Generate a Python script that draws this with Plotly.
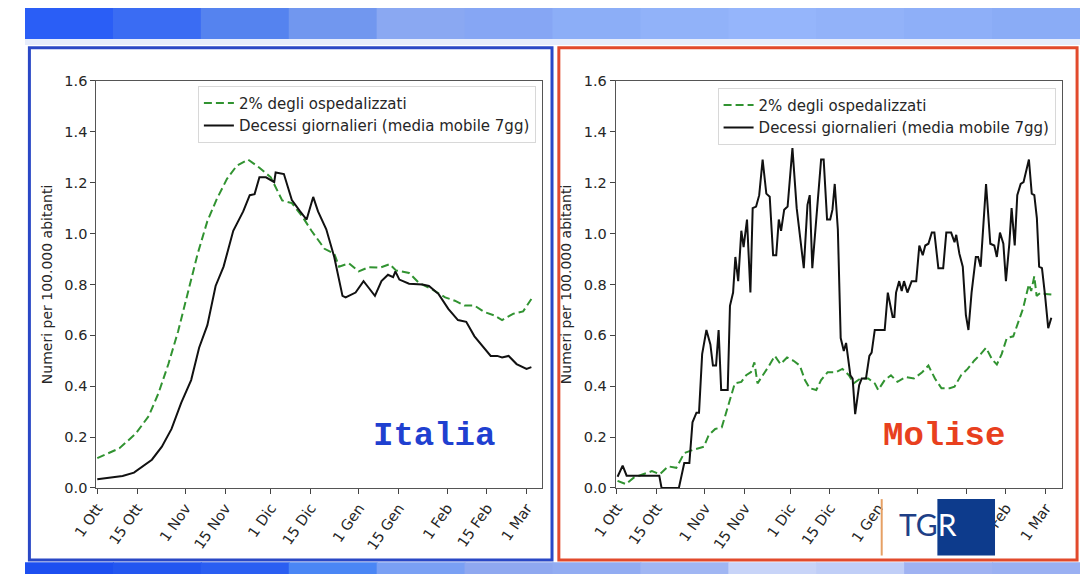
import plotly.graph_objects as go

W, H = 1080, 582

# ---------------- DATA ----------------
# day offsets from 1 Oct 2020
tick_days = [0, 14, 31, 45, 61, 75, 92, 106, 123, 137, 151]
tick_labels = ["1 Ott", "15 Ott", "1 Nov", "15 Nov", "1 Dic", "15 Dic",
               "1 Gen", "15 Gen", "1 Feb", "15 Feb", "1 Mar"]
y_ticks = [0.0, 0.2, 0.4, 0.6, 0.8, 1.0, 1.2, 1.4, 1.6]

legend_osp = "2% degli ospedalizzati"
legend_dec = "Decessi giornalieri (media mobile 7gg)"
y_title = "Numeri per 100.000 abitanti"
regions = ["Italia", "Molise"]

# Italia - 2% degli ospedalizzati
it_osp_giorni = [0, 7.8, 13.5, 18.1, 21.5, 25, 28.4, 31.8, 35.3, 38.7, 42.1, 45.6, 49, 53,
                 57, 61, 65, 68.4, 71.9, 75.3, 79.9, 83.3, 85, 88.5, 91.9, 95.4, 99.4, 102.8,
                 105, 109.6, 113.1, 117.7, 122.3, 125.7, 129.1, 132.6, 136, 139.4, 142.3,
                 146.3, 149.7, 152.6]
it_osp_valori = [0.117, 0.156, 0.213, 0.283, 0.372, 0.487, 0.615, 0.768, 0.921, 1.049,
                 1.138, 1.215, 1.266, 1.291, 1.259, 1.221, 1.130, 1.120, 1.070, 1.011,
                 0.940, 0.921, 0.870, 0.883, 0.851, 0.868, 0.866, 0.880, 0.855, 0.845,
                 0.806, 0.781, 0.749, 0.736, 0.717, 0.717, 0.692, 0.679, 0.660, 0.685,
                 0.694, 0.743]

# Italia - decessi giornalieri
it_dec_giorni = [0, 8.9, 12.9, 15.8, 19.2, 22.7, 26.1, 29.5, 33, 35.8, 38.7, 41.6, 44.4,
                 47.8, 51.3, 53.6, 55.3, 57, 59.3, 62.2, 62.7, 65.6, 68.4, 71.3, 73.6,
                 75.9, 77.6, 80.5, 83.3, 86.2, 87.3, 90.8, 93.6, 95.4, 97.6, 99.9, 102.2,
                 104, 104.8, 106.2, 109.6, 114.3, 116.6, 120, 123.4, 126.8, 129.7, 132.6,
                 135.4, 138.3, 140.6, 142.3, 144.6, 147.4, 150.9, 152.6]
it_dec_valori = [0.034, 0.047, 0.060, 0.085, 0.111, 0.162, 0.232, 0.334, 0.424, 0.551,
                 0.640, 0.794, 0.870, 1.011, 1.087, 1.151, 1.155, 1.221, 1.221, 1.202,
                 1.240, 1.234, 1.132, 1.087, 1.055, 1.144, 1.087, 1.017, 0.908, 0.755,
                 0.749, 0.768, 0.813, 0.787, 0.755, 0.813, 0.838, 0.829, 0.851, 0.819,
                 0.803, 0.800, 0.794, 0.762, 0.704, 0.660, 0.653, 0.596, 0.558, 0.519,
                 0.519, 0.513, 0.519, 0.487, 0.468, 0.475]

# Molise - 2% degli ospedalizzati
mo_osp_giorni = [0.2, 3.1, 6, 9.4, 12.3, 15.1, 18, 20.9, 23.7, 26.6, 30.6, 32.3, 34.6, 36.9,
                 39.2, 41.5, 43.8, 45.5, 47.2, 48.4, 49.5, 51.8, 53.6, 55.6, 57.6, 59.9,
                 62.2, 64.4, 66.2, 67.9, 70.2, 71.9, 74.2, 77.1, 79.4, 81.7, 83.4, 85.7,
                 88.5, 90.8, 92, 94.3, 96.5, 98.8, 101.7, 104.6, 107.5, 109.7, 112, 114.3,
                 117.2, 118.9, 121.2, 123.5, 125.8, 128.1, 130, 132.1, 133.8, 135.5, 137.3,
                 139.6, 141.3, 143, 144.1, 145.1, 145.9, 147, 147.8, 149.3, 151, 153]
mo_osp_valori = [0.028, 0.015, 0.041, 0.054, 0.066, 0.054, 0.085, 0.079, 0.137, 0.149,
                 0.162, 0.207, 0.232, 0.238, 0.328, 0.411, 0.417, 0.443, 0.455, 0.494,
                 0.411, 0.449, 0.481, 0.519, 0.487, 0.513, 0.500, 0.481, 0.424, 0.392,
                 0.385, 0.424, 0.455, 0.455, 0.468, 0.443, 0.411, 0.430, 0.430, 0.411,
                 0.385, 0.424, 0.443, 0.417, 0.436, 0.430, 0.455, 0.481, 0.430, 0.392,
                 0.392, 0.398, 0.443, 0.468, 0.500, 0.526, 0.551, 0.506, 0.485, 0.526,
                 0.589, 0.596, 0.653, 0.704, 0.755, 0.800, 0.774, 0.832, 0.755, 0.768,
                 0.762, 0.760]

# Molise - decessi giornalieri
mo_dec_giorni = [0.2, 2.0, 3.4, 14.9, 15.7, 21.8, 23.7, 25.5, 26.6, 28, 28.9, 30, 31.5,
                 32.9, 33.8, 34.9, 35.8, 36.7, 39, 39.8, 40.9, 41.7, 42.7, 43.8, 44.6,
                 45.8, 47, 47.8, 49, 50.1, 51.3, 52.6, 53.8, 55, 56.1, 57, 57.8, 58.9,
                 60.1, 61.8, 63.3, 64.4, 65.8, 67.1, 67.9, 68.8, 70.2, 71.9, 72.8, 74,
                 75.1, 75.9, 76.7, 77.8, 78.8, 79.9, 80.7, 81.4, 82.2, 83, 83.9, 85.3,
                 86.2, 87.7, 88.9, 89.7, 90.8, 94.3, 95.4, 97.1, 97.7, 98.3, 99.4, 100.3,
                 101.1, 102.3, 103.8, 105.4, 106.5, 107.7, 108.6, 109.7, 110.9, 111.8,
                 113.2, 114.9, 116, 117.7, 118.9, 119.5, 120.6, 121.8, 122.9, 123.8,
                 124.9, 126.4, 127.2, 128.1, 130, 131.5, 132.9, 133.8, 134.9, 136.1, 137,
                 138.2, 139, 140.1, 141, 142.2, 143.2, 145.1, 146.1, 147, 147.9, 148.7,
                 149.7, 150.8, 151.9, 153]
mo_dec_valori = [0.044, 0.088, 0.048, 0.048, 0.0, 0.0, 0.098, 0.098, 0.258, 0.296, 0.296,
                 0.526, 0.621, 0.564, 0.481, 0.481, 0.621, 0.385, 0.385, 0.716, 0.768,
                 0.908, 0.813, 1.011, 0.947, 1.055, 0.768, 1.100, 1.106, 1.151, 1.291,
                 1.157, 1.145, 0.915, 0.915, 1.055, 1.011, 1.094, 1.106, 1.336, 1.100,
                 0.985, 0.864, 1.113, 1.151, 0.864, 1.061, 1.291, 1.291, 1.055, 1.055,
                 1.094, 1.195, 1.017, 0.589, 0.538, 0.570, 0.500, 0.443, 0.430, 0.290,
                 0.404, 0.430, 0.430, 0.519, 0.532, 0.621, 0.621, 0.768, 0.672, 0.672,
                 0.768, 0.813, 0.774, 0.813, 0.768, 0.813, 0.813, 0.953, 0.915, 0.953,
                 0.960, 1.004, 1.004, 0.864, 0.864, 1.004, 1.004, 0.966, 0.995, 0.921,
                 0.870, 0.679, 0.621, 0.768, 0.908, 0.908, 0.870, 1.195, 0.960, 0.953,
                 0.908, 1.004, 0.960, 0.813, 0.960, 1.100, 0.953, 1.151, 1.195, 1.202,
                 1.291, 1.157, 1.151, 1.061, 0.870, 0.864, 0.755, 0.628, 0.669]

# ---------------- FIGURE ----------------
def fx(p):
    return p / W

def fy(p):
    return 1 - p / H

GREEN = "#319331"
BLACK = "#111111"
TXT = "#262626"
FONT = "DejaVu Sans"

fig = go.Figure()

panels = [
    (it_osp_giorni, it_osp_valori, it_dec_giorni, it_dec_valori, "x", "y", "legend"),
    (mo_osp_giorni, mo_osp_valori, mo_dec_giorni, mo_dec_valori, "x2", "y2", "legend2"),
]
for og, ov, dg, dv, xa, ya, lg in panels:
    fig.add_trace(go.Scatter(x=og, y=ov, mode="lines", name=legend_osp,
                             line=dict(color=GREEN, width=2, dash="8px,4px"),
                             xaxis=xa, yaxis=ya, legend=lg))
    fig.add_trace(go.Scatter(x=dg, y=dv, mode="lines", name=legend_dec,
                             line=dict(color=BLACK, width=2),
                             xaxis=xa, yaxis=ya, legend=lg))

xcommon = dict(tickmode="array", tickvals=tick_days, ticktext=tick_labels,
               tickangle=-55, ticks="outside", ticklen=5, tickcolor="#444",
               tickfont=dict(family=FONT, size=14.5, color=TXT),
               showline=True, linecolor="#555", linewidth=1, mirror=True,
               showgrid=False, zeroline=False)
ycommon = dict(range=[0, 1.6], tickmode="array", tickvals=y_ticks,
               ticktext=[f"{v:.1f}" for v in y_ticks],
               ticks="outside", ticklen=5, tickcolor="#444",
               tickfont=dict(family=FONT, size=14.5, color=TXT),
               showline=True, linecolor="#555", linewidth=1, mirror=True,
               showgrid=False, zeroline=False,
               title=dict(text=y_title, font=dict(family=FONT, size=14, color=TXT),
                          standoff=8))

ydom = [fy(493.5), fy(75)]
fig.update_layout(
    width=W, height=H, margin=dict(l=0, r=0, t=0, b=0),
    paper_bgcolor="#ffffff", plot_bgcolor="#ffffff",
    xaxis=dict(domain=[fx(73), fx(529)], range=[-0.34, 156.25], anchor="y", **xcommon),
    yaxis=dict(domain=ydom, anchor="x", **ycommon),
    xaxis2=dict(domain=[fx(604.7), fx(1062)], range=[-0.45, 156.9], anchor="y2", **xcommon),
    yaxis2=dict(domain=ydom, anchor="x2", **ycommon),
    legend=dict(x=fx(523), xanchor="right", y=fy(80), yanchor="top",
                bgcolor="rgba(255,255,255,0.85)", bordercolor="#d8d8d8", borderwidth=1,
                font=dict(family=FONT, size=15, color=TXT), itemwidth=30),
    legend2=dict(x=fx(1055), xanchor="right", y=fy(82), yanchor="top",
                 bgcolor="rgba(255,255,255,0.85)", bordercolor="#d8d8d8", borderwidth=1,
                 font=dict(family=FONT, size=15, color=TXT), itemwidth=30),
)

shapes = []
# top background strip (blurred TV background)
top_cols = ["#2a5ef6", "#3a6cf3", "#5583ef", "#7197ef", "#8aa8f2", "#86a6f4",
            "#8caef7", "#91b2f9", "#95b5fb", "#92b2f9", "#8eaff8", "#8aacf6"]
step = W / len(top_cols)
for i, c in enumerate(top_cols):
    shapes.append(dict(type="rect", xref="paper", yref="paper", layer="below",
                       x0=fx(i * step), x1=fx((i + 1) * step + 1), y0=fy(33), y1=fy(0),
                       fillcolor=c, line=dict(width=0)))
shapes.append(dict(type="rect", xref="paper", yref="paper", layer="below",
                   x0=0, x1=1, y0=fy(38), y1=fy(32), fillcolor="#e6ecfb", line=dict(width=0)))
# bottom strip
bot_cols = ["#1d4ff0", "#2356f0", "#2a5ef2", "#4a86f5", "#7aa0f4", "#8fa8f0",
            "#92acf2", "#a0b6f3", "#c8d4f8", "#c0cef7", "#9fb2f2", "#9ab0f2"]
step = W / len(bot_cols)
for i, c in enumerate(bot_cols):
    shapes.append(dict(type="rect", xref="paper", yref="paper", layer="below",
                       x0=fx(i * step), x1=fx((i + 1) * step + 1), y0=0, y1=fy(570),
                       fillcolor=c, line=dict(width=0)))
# panel frames
shapes.append(dict(type="rect", xref="paper", yref="paper", layer="below",
                   x0=fx(4.5), x1=fx(539.5), y0=fy(567.5), y1=fy(41),
                   fillcolor="#ffffff", line=dict(color="#2a48c6", width=3)))
shapes.append(dict(type="rect", xref="paper", yref="paper", layer="below",
                   x0=fx(546.5), x1=fx(1077), y0=fy(567.5), y1=fy(41),
                   fillcolor="#ffffff", line=dict(color="#e24a2c", width=3)))
# TGR logo
shapes.append(dict(type="rect", xref="paper", yref="paper", layer="above",
                   x0=fx(878), x1=fx(934), y0=fy(565), y1=fy(503),
                   fillcolor="#ffffff", line=dict(width=0)))
shapes.append(dict(type="line", xref="paper", yref="paper", layer="above",
                   x0=fx(877), x1=fx(877), y0=fy(563), y1=fy(505),
                   line=dict(color="#e6a064", width=2)))
shapes.append(dict(type="rect", xref="paper", yref="paper", layer="above",
                   x0=fx(934), x1=fx(993), y0=fy(563), y1=fy(505),
                   fillcolor="#0d3b8c", line=dict(width=0)))
fig.update_layout(shapes=shapes)

fig.add_annotation(x=fx(419), y=fy(440), xref="paper", yref="paper", showarrow=False,
                   text=regions[0], xanchor="center", yanchor="middle",
                   font=dict(family="Liberation Mono", size=34, color="#1f40d0",
                             weight="bold"))
fig.add_annotation(x=fx(941), y=fy(440), xref="paper", yref="paper", showarrow=False,
                   text=regions[1], xanchor="center", yanchor="middle",
                   font=dict(family="Liberation Mono", size=34, color="#e8401e",
                             weight="bold"))
fig.add_annotation(x=fx(893), y=fy(531), xref="paper", yref="paper", showarrow=False,
                   text="TG<span style='color:#ffffff'>R</span>",
                   xanchor="left", yanchor="middle",
                   font=dict(family="Lato", size=30, color="#1e3f86"))

fig.write_html("out.html")
